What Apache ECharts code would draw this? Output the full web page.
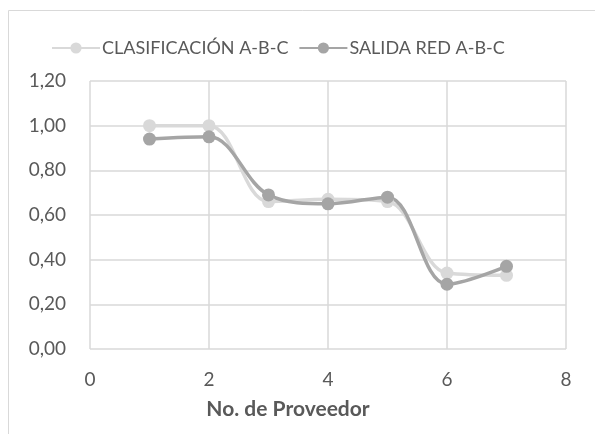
<!DOCTYPE html>
<html>
<head>
<meta charset="utf-8">
<script src="https://cdn.jsdelivr.net/npm/echarts@6/dist/echarts.min.js"></script>
<style>
html, body { margin: 0; padding: 0; background: #fff; }
#chart { width: 595px; height: 434px; }
</style>
</head>
<body>
<div id="chart"></div>
<script>
// datos
var proveedores = [1, 2, 3, 4, 5, 6, 7];
var clasificacion = [1.00, 1.00, 0.66, 0.67, 0.66, 0.34, 0.33];
var salidaRed = [0.94, 0.95, 0.69, 0.65, 0.68, 0.29, 0.37];
var nombres = ['CLASIFICACIÓN A-B-C', 'SALIDA RED A-B-C'];
var tituloX = 'No. de Proveedor';

function pares(ys) {
    return proveedores.map(function(x, i) { return [x, ys[i]]; });
}

var font = 'Lato, "Open Sans", sans-serif';
var chart = echarts.init(document.getElementById('chart'));
chart.setOption({
    animation: false,
    textStyle: { fontFamily: font },
    graphic: [{
        type: 'rect',
        shape: { x: 8.5, y: 10.5, width: 600, height: 440 },
        style: { fill: 'none', stroke: '#d9d9d9', lineWidth: 1 }
    }, {
        type: 'text',
        x: 288, y: 409,
        style: {
            text: tituloX, fill: '#595959', fontSize: 21, fontWeight: 'bold',
            fontFamily: font, align: 'center', verticalAlign: 'middle'
        }
    }],
    legend: {
        top: 34,
        left: 46,
        itemWidth: 48,
        itemHeight: 14,
        itemGap: 10,
        textStyle: { color: '#595959', fontSize: 18, fontFamily: font, padding: [0, 0, 0, -3] },
        data: nombres
    },
    grid: { left: 90, right: 29, top: 81, bottom: 85 },
    xAxis: {
        type: 'value',
        min: 0, max: 8, interval: 2,
        axisLine: { show: false },
        axisTick: { show: false },
        axisLabel: { color: '#595959', fontSize: 19, margin: 21 },
        splitLine: { lineStyle: { color: '#d9d9d9', width: 1.5 } }
    },
    yAxis: {
        type: 'value',
        min: 0, max: 1.2, interval: 0.2,
        axisLine: { show: false },
        axisTick: { show: false },
        axisLabel: {
            color: '#595959', fontSize: 19, margin: 24,
            formatter: function(v) { return v.toFixed(2).replace('.', ','); }
        },
        splitLine: { lineStyle: { color: '#d9d9d9', width: 1.5 } }
    },
    series: [{
        name: nombres[0],
        type: 'line',
        smooth: 0.35,
        data: pares(clasificacion),
        symbol: 'circle',
        symbolSize: 13,
        itemStyle: { color: '#d9d9d9' },
        lineStyle: { color: '#d9d9d9', width: 3.5 }
    }, {
        name: nombres[1],
        type: 'line',
        smooth: 0.35,
        data: pares(salidaRed),
        symbol: 'circle',
        symbolSize: 13,
        itemStyle: { color: '#a5a5a5' },
        lineStyle: { color: '#a5a5a5', width: 3.5 }
    }]
});
</script>
</body>
</html>
